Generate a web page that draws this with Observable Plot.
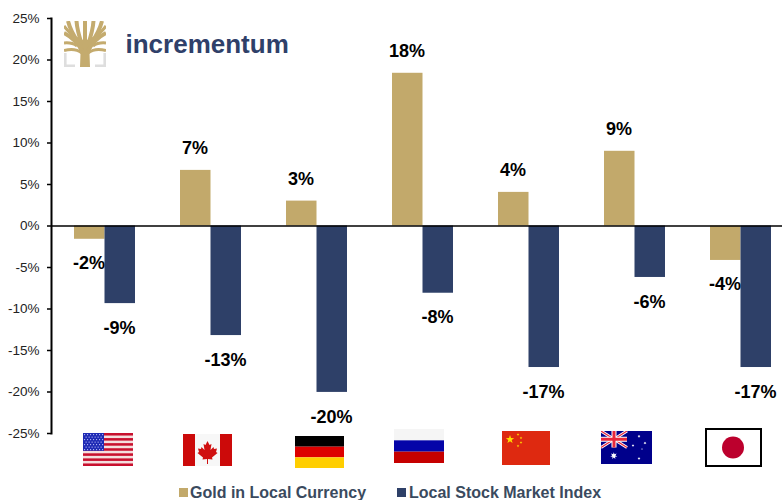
<!DOCTYPE html>
<html><head><meta charset="utf-8">
<style>
html,body{margin:0;padding:0;background:#fff;overflow:hidden}
#wrap{position:relative;width:782px;height:500px;font-family:"Liberation Sans",Arial,sans-serif}
#chart svg{display:block}
.lg{position:absolute;top:484px;font-size:16px;font-weight:bold;color:#3a4a5e;white-space:nowrap;line-height:17px}
.sw{position:absolute;top:488px;width:9px;height:9px}
</style>
<script src="https://cdn.jsdelivr.net/npm/d3@7"></script>
<script src="https://cdn.jsdelivr.net/npm/@observablehq/plot@0.6"></script>
</head><body><div id="wrap"><div id="chart"></div>
<div class="sw" style="left:179px;background:#c2a96b"></div><div class="lg" style="left:190px">Gold in Local Currency</div>
<div class="sw" style="left:397px;background:#2e4068"></div><div class="lg" style="left:409px">Local Stock Market Index</div>
</div>
<script>
const countries = ["United States","Canada","Germany","Russia","China","Australia","Japan"];
const goldValues = [-1.6, 6.7, 3.0, 18.4, 4.05, 9.0, -4.15];
const stockValues = [-9.35, -13.2, -20.05, -8.1, -17.05, -6.2, -17.05];
const yTicks = [25,20,15,10,5,0,-5,-10,-15,-20,-25];

const GOLD = "#c2a96b", NAVY = "#2e4068";
const gold = countries.map((c,i)=>({c, v:goldValues[i]}));
const stock = countries.map((c,i)=>({c, v:stockValues[i]}));
const pct = d => Math.round(d.v) + "%";

const uri = s => "data:image/svg+xml," + encodeURIComponent(s);
const svgw = (w,h,body) => `<svg xmlns="http://www.w3.org/2000/svg" viewBox="0 0 ${w} ${h}" preserveAspectRatio="none">${body}</svg>`;
function star(cx,cy,r,n=5,inner=0.4,rot=-90){
  const p=[];for(let i=0;i<n*2;i++){const a=(rot+i*180/n)*Math.PI/180,q=i%2?r*inner:r;p.push((cx+q*Math.cos(a)).toFixed(2)+","+(cy+q*Math.sin(a)).toFixed(2));}
  return p.join(" ");
}
function usFlag(){
  let b=`<rect width="50" height="33" fill="#f4dede"/>`;
  for(let i=0;i<7;i++) b+=`<rect y="${(i*2*33/13).toFixed(2)}" width="50" height="${(33/13).toFixed(2)}" fill="#c8102e"/>`;
  b+=`<rect width="21" height="17.8" fill="#1f2bb5"/>`;
  for(let r=0;r<7;r++)for(let c=0;c<(r%2?6:7);c++) b+=`<circle cx="${(1.6+c*3+(r%2?1.5:0)).toFixed(1)}" cy="${(1.6+r*2.5).toFixed(1)}" r=".6" fill="#c8ccff"/>`;
  return svgw(50,33,b);
}
function caFlag(){
  const leaf="24.5,7 26.5,11 28.5,10 27.5,16 30.5,13 31,15 34,14.5 33,18 34.5,19 29,23.5 29.5,25.5 25,25 25,30 24,30 24,25 19.5,25.5 20,23.5 14.5,19 16,18 15,14.5 18,15 18.5,13 21.5,16 20.5,10 22.5,11";
  return svgw(49,32,`<rect width="49" height="32" fill="#f7f7f7"/><rect width="12" height="32" fill="#cc0a0a"/><rect x="37" width="12" height="32" fill="#cc0a0a"/><polygon points="${leaf}" fill="#d01010"/>`);
}
const deFlag=()=>svgw(3,3,`<rect width="3" height="1" fill="#000"/><rect y="1" width="3" height="1" fill="#dd0000"/><rect y="2" width="3" height="1" fill="#ffce00"/>`);
const ruFlag=()=>svgw(3,3,`<rect width="3" height="1" fill="#f5f5f5"/><rect y="1" width="3" height="1" fill="#0404a8"/><rect y="2" width="3" height="1" fill="#c60000"/>`);
function cnFlag(){
  let b=`<rect width="48" height="34" fill="#de2910"/><polygon points="${star(8,8.5,4.4)}" fill="#ffde00"/>`;
  [[16,3.5],[19,7],[19,11.5],[16,15]].forEach(([x,y])=>b+=`<polygon points="${star(x,y,1.4)}" fill="#ffde00"/>`);
  return svgw(48,34,b);
}
function auFlag(){
  let b=`<rect width="51" height="33" fill="#00008b"/>`;
  b+=`<path d="M0 0L26 16.5M26 0L0 16.5" stroke="#fff" stroke-width="3"/><path d="M0 0L26 16.5M26 0L0 16.5" stroke="#e8283c" stroke-width="1.2"/>`;
  b+=`<path d="M13 0V16.5M0 8.25H26" stroke="#fff" stroke-width="5"/><path d="M13 0V16.5M0 8.25H26" stroke="#e8283c" stroke-width="3"/>`;
  b+=`<polygon points="${star(12.8,24.8,3.6,7,0.45)}" fill="#fff"/>`;
  [[38,5.3,1.5],[38,27.5,1.5],[32,14.5,1.4],[44,12,1.5],[41,18,.9]].forEach(([x,y,r])=>b+=`<polygon points="${star(x,y,r,7,0.45)}" fill="#fff"/>`);
  return svgw(51,33,b);
}
const jpFlag=()=>svgw(57,39,`<rect x="1" y="1" width="55" height="37" fill="#fff" stroke="#000" stroke-width="2"/><circle cx="28" cy="19.5" r="11" fill="#bc002d"/>`);
function tree(){
  const g="#c4ab6e";
  const s=`fill="none" stroke="${g}" stroke-linecap="butt"`;
  return svgw(42,46,
   `<path d="M1.3 32V44.7H11M40.7 32V44.7H31" fill="none" stroke="#dedede" stroke-width="2.6"/>`+
   `<path d="M16 46L16.5 32C16.5 26 14 20 9 14L21 20L33 14C28 20 25.5 26 25.5 32L26 46Z" fill="${g}"/>`+
   `<path d="M18 30C14 22 8 16 0 12M14 21C10 15 6 8 4 0M18 24C15 15 13 8 12.5 0M24 30C28 22 34 16 42 12M28 21C32 15 36 8 38 0M24 24C27 15 29 8 29.5 0M21 26V0" ${s} stroke-width="4"/>`+
   `<path d="M13 25C9 22 5 21.5 0 22M29 25C33 22 37 21.5 42 22M18 32C13 28 7 27.5 0 29.5M24 32C29 28 35 27.5 42 29.5M9 15C6 12 3 9 0 5M33 15C36 12 39 9 42 5" ${s} stroke-width="3"/>`);
}

// decorative images, placed in the plot frame (origin = left axis, top tick)
const images = [
  [usFlag(),83,433,50,33],[caFlag(),183,434,49,32],[deFlag(),295,436,49,32],[ruFlag(),394,429,50,34],
  [cnFlag(),502,431,48,34],[auFlag(),601,431,51,33],[jpFlag(),705,428,57,39],[tree(),64,21,42,46]
];
const L=51,T=18;
const imgMarks = images.map(([src,x,y,w,h]) => Plot.image([0],{
  src:()=>uri(src), frameAnchor:"top-left", width:w, height:h, dx:x+w/2-L-0.5, dy:y+h/2-T-0.5, preserveAspectRatio:"none"
}));
const labelStyle = {x:"c", y:"v", text:pct, fontSize:18, fontWeight:"bold", fill:"#000"};

const chart = Plot.plot({
  width:782, height:480, marginLeft:L, marginRight:0, marginTop:T, marginBottom:47,
  style:{fontFamily:"'Liberation Sans',Arial,sans-serif", background:"#fff", color:"#222"},
  x:{type:"band", domain:countries, range:[L,793], padding:0, axis:null},
  y:{domain:[-25,25], axis:null},
  marks:[
    Plot.barY(gold,{x:"c",y:"v",fill:GOLD,insetLeft:23,insetRight:52.5}),
    Plot.barY(stock,{x:"c",y:"v",fill:NAVY,insetLeft:53.5,insetRight:22}),
    Plot.frame({anchor:"left",stroke:"#000",strokeWidth:2}),
    Plot.axisY({ticks:yTicks,tickSize:4,tickPadding:8,fontSize:13.5,fill:"#222",stroke:"#000",strokeWidth:1.5,strokeOpacity:1,
      tickFormat:d=>d+"%",label:null}),
    Plot.ruleY([0],{stroke:"#000",strokeWidth:1.5}),
    Plot.text(gold.filter(d=>d.v>=0),{...labelStyle,dx:-15.5,dy:-22}),
    Plot.text(gold.filter(d=>d.v<0),{...labelStyle,dx:-15.5,dy:24}),
    Plot.text(stock,{...labelStyle,dx:15,dy:24.5}),
    ...imgMarks,
    Plot.text(["incrementum"],{text:d=>d,frameAnchor:"top-left",dx:125-L,dy:44-T,textAnchor:"start",lineAnchor:"middle",
      fontSize:26,fontWeight:"bold",fill:"#2f4069",stroke:"none"})
  ]
});
document.getElementById("chart").appendChild(chart);
</script></body></html>
